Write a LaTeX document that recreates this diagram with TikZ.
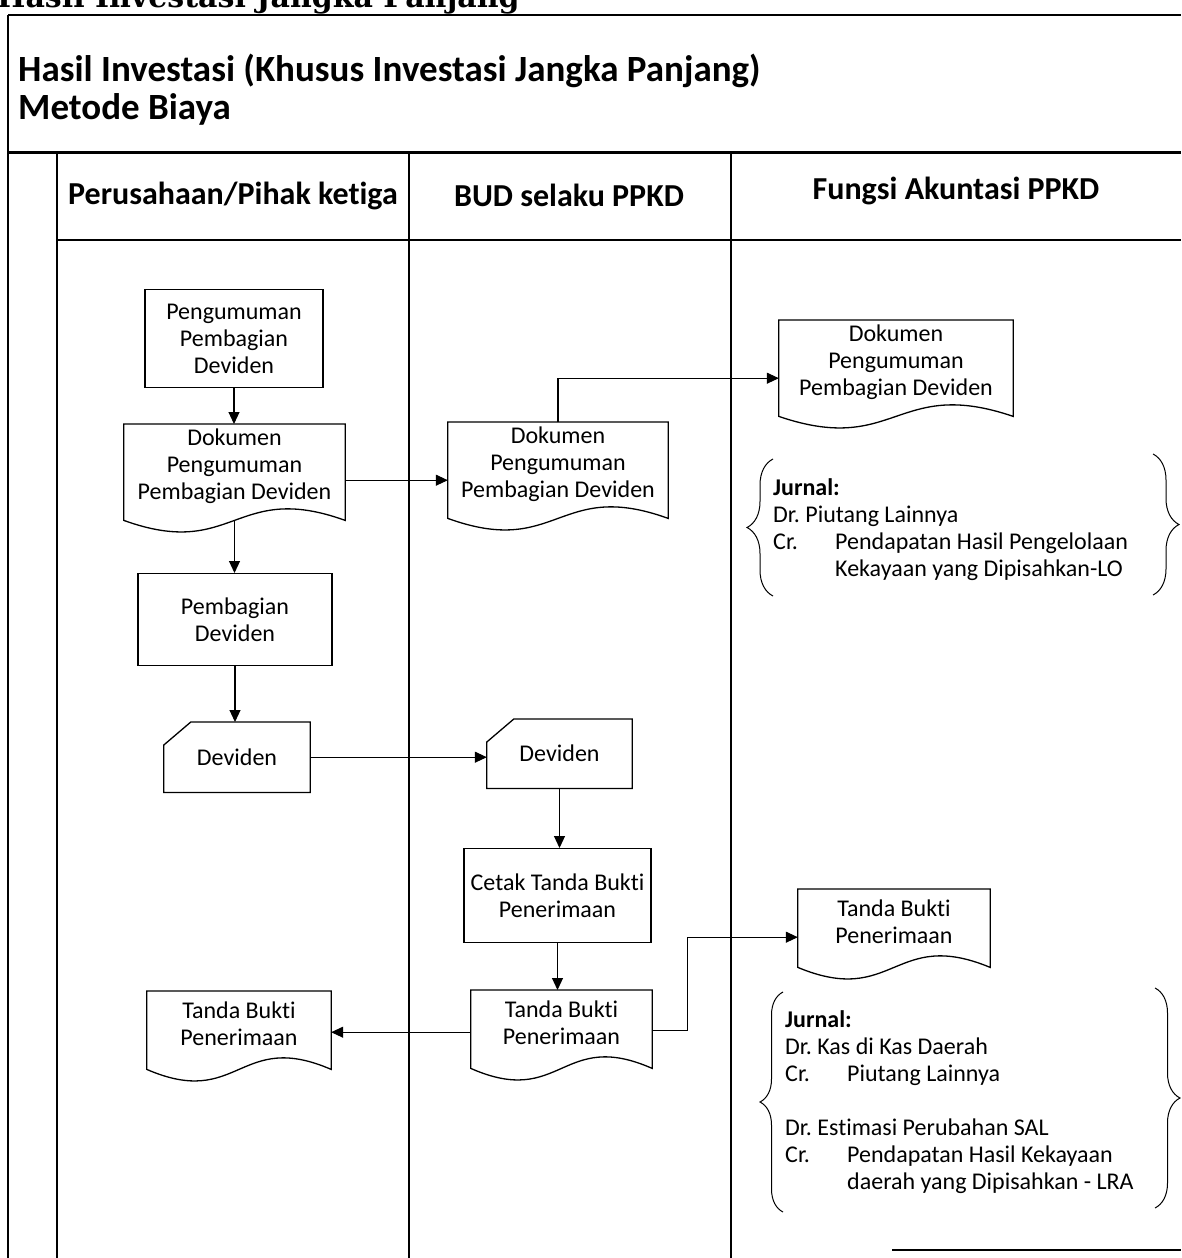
\documentclass[tikz,border=0pt]{standalone}
\usepackage{fontspec}
\setmainfont{Carlito}[Ligatures={NoCommon}]
\newfontfamily\judulfont{DejaVu Serif}
\usetikzlibrary{arrows.meta,calc,decorations.pathreplacing}
\frenchspacing

\tikzset{
  garis/.style={line width=1.2pt},
  panah/.style={line width=1.1pt,-{Triangle[length=12pt,width=11pt]}},
  proses/.style={draw,line width=1.3pt,align=center,inner sep=0pt,anchor=north},
  dok/.style={align=center,inner sep=0pt,anchor=north,
    append after command={\pgfextra{\draw[line width=1.3pt]
      (\tikzlastnode.north west) -- (\tikzlastnode.north east) -- ([yshift=-12pt]\tikzlastnode.south east)
      .. controls ($([yshift=-12pt]\tikzlastnode.south)+(0pt,40pt)$) and ($([yshift=-12pt]\tikzlastnode.south)+(0pt,-40pt)$)
      .. ([yshift=-12pt]\tikzlastnode.south west) -- cycle;}}},
  kartu/.style={align=center,inner sep=0pt,anchor=north,
    append after command={\pgfextra{\draw[line width=1.3pt]
      ([yshift=-23pt]\tikzlastnode.north west) -- ([xshift=27pt]\tikzlastnode.north west) -- (\tikzlastnode.north east)
      -- (\tikzlastnode.south east) -- (\tikzlastnode.south west) -- cycle;}}},
  kepala/.style={font=\bfseries\fontsize{32}{38}\selectfont},
  jurnal/.style={align=left,inner sep=0pt,anchor=north west},
  kurung/.style={line width=1pt,decorate,decoration={brace,amplitude=#1}}
}

\begin{document}
\begin{tikzpicture}[x=1pt,y=-1pt,every node/.style={font=\fontsize{24}{27}\selectfont}]
  \useasboundingbox (0,0) rectangle (1181,1258);
  \node[anchor=base west,inner sep=0pt,font=\judulfont\bfseries\fontsize{30}{34}\selectfont] (atas) at (-3,7) {Hasil Investasi Jangka Panjang};
  \draw[line width=1.3pt] (8,15) -- (1181,15);
  \draw[line width=1.3pt] (8,15) -- (8,1258);
  \draw[line width=3pt] (8,152) -- (1181,152);
  \draw[garis] (57,240) -- (1181,240);
  \foreach \x in {57,409,731} \draw[garis] (\x,152) -- (\x,1258);
  \draw[garis] (892,1250) -- (1181,1250);
  \node[anchor=base west,inner sep=0pt,font=\bfseries\fontsize{37}{42}\selectfont] (judul1) at (18,81) {Hasil Investasi (Khusus Investasi Jangka Panjang)};
  \node[anchor=base west,inner sep=0pt,font=\bfseries\fontsize{37}{42}\selectfont] (judul2) at (18,119) {Metode Biaya};
  \node[kepala] (h1) at (233,196) {Perusahaan/Pihak ketiga};
  \node[kepala] (h2) at (569,195) {BUD selaku PPKD};
  \node[kepala] (h3) at (956,191) {Fungsi Akuntasi PPKD};

  \node[proses,minimum width=178pt,minimum height=98pt] (p1) at (234,289) {Pengumuman\\Pembagian\\Deviden};
  \node[dok,minimum width=221pt,minimum height=84pt] (d1) at (234.5,424) {Dokumen\\Pengumuman\\Pembagian Deviden};
  \node[proses,minimum width=194pt,minimum height=92pt] (p2) at (235,573) {Pembagian\\Deviden};
  \node[kartu,minimum width=146pt,minimum height=70pt] (c1) at (237,722) {Deviden};
  \node[dok,minimum width=184pt,minimum height=66pt] (t1) at (239,991) {Tanda Bukti\\Penerimaan};

  \node[dok,minimum width=220pt,minimum height=84pt] (d2) at (558,422) {Dokumen\\Pengumuman\\Pembagian Deviden};
  \node[kartu,minimum width=145pt,minimum height=69pt] (c2) at (559.5,719) {Deviden};
  \node[proses,minimum width=187pt,minimum height=94pt] (k) at (557.5,848) {Cetak Tanda Bukti\\Penerimaan};
  \node[dok,minimum width=181pt,minimum height=66pt] (t2) at (561.5,990) {Tanda Bukti\\Penerimaan};

  \node[dok,minimum width=234pt,minimum height=84pt] (d3) at (896,320) {Dokumen\\Pengumuman\\Pembagian Deviden};
  \node[dok,minimum width=192pt,minimum height=66pt] (t3) at (894,889) {Tanda Bukti\\Penerimaan};

  \node[jurnal] (jr1) at (773,478) {\textbf{Jurnal:}\\Dr. Piutang Lainnya\\\makebox[62pt][l]{Cr.}Pendapatan Hasil Pengelolaan\\\hspace*{62pt}Kekayaan yang Dipisahkan-LO};
  \node[jurnal] (jr2) at (785,1010) {\textbf{Jurnal:}\\Dr. Kas di Kas Daerah\\\makebox[62pt][l]{Cr.}Piutang Lainnya\\[27pt]Dr. Estimasi Perubahan SAL\\\makebox[62pt][l]{Cr.}Pendapatan Hasil Kekayaan\\\hspace*{62pt}daerah yang Dipisahkan - LRA};
  \draw[kurung=26pt] (773,596) -- (773,459);
  \draw[kurung=26pt] (1153,454) -- (1153,595);
  \draw[kurung=23pt] (783,1212) -- (783,992);
  \draw[kurung=25pt] (1155,988) -- (1155,1208);

  \draw[panah] (p1.south) -- (p1.south |- d1.north);
  \draw[panah] ([yshift=-12pt]d1.south) -- (d1.south |- p2.north);
  \draw[panah] (p2.south) -- (p2.south |- c1.north);
  \draw[panah] ($(d1.east)+(0,14)$) -- ($(d1.east -| d2.west)+(0,14)$);
  \draw[panah] (d2.north) |- ($(d3.west)+(0,16)$);
  \draw[panah] (c1.east) -- (c1.east -| c2.west);
  \draw[panah] (c2.south) -- (c2.south |- k.north);
  \draw[panah] (k.south) -- (k.south |- t2.north);
  \draw[panah] ($(t2.west)+(0,9)$) -- ($(t2.west -| t1.east)+(0,9)$);
  \draw[panah] ($(t2.east)+(0,7)$) -- ++(35,0) |- ($(t3.west)+(0,15)$);
\end{tikzpicture}
\end{document}
